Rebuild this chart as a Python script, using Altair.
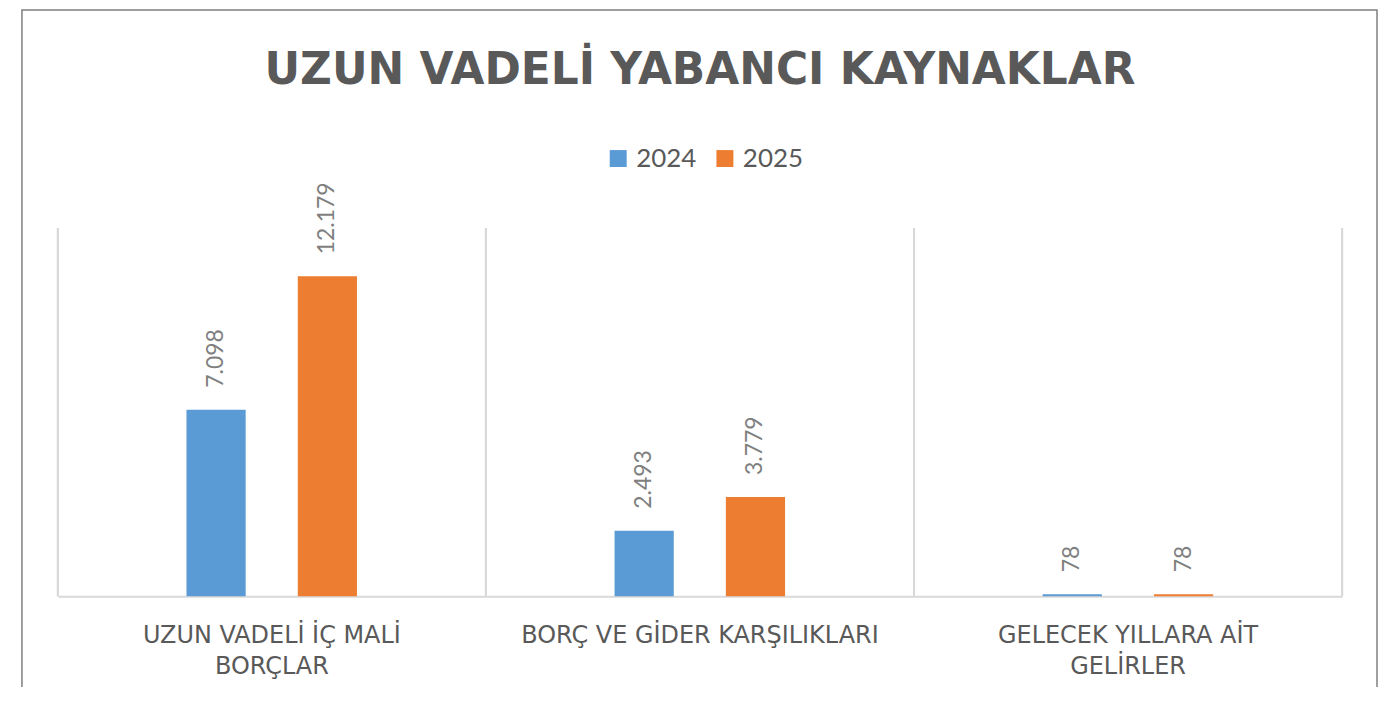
import altair as alt
import pandas as pd

categories = ["UZUN VADELİ İÇ MALİ|BORÇLAR", "BORÇ VE GİDER KARŞILIKLARI", "GELECEK YILLARA AİT|GELİRLER"]
years = ["2024", "2025"]
values_2024 = [7098, 2493, 78]
values_2025 = [12179, 3779, 78]
colors = ["#5B9BD5", "#ED7D31"]
title_text = "UZUN VADELİ YABANCI KAYNAKLAR"

rows = []
for c, v in zip(categories, values_2024):
    rows.append({"cat": c, "year": "2024", "value": v})
for c, v in zip(categories, values_2025):
    rows.append({"cat": c, "year": "2025", "value": v})
df = pd.DataFrame(rows)

W, H = 1288, 369

def xenc(band=None, axis=None):
    kw = dict(sort=categories, title=None,
              scale=alt.Scale(paddingInner=0, paddingOuter=0))
    if band is not None:
        kw["bandPosition"] = band
    if axis is not None:
        kw["axis"] = axis
    return alt.X("cat:N", **kw)

xaxis = alt.Axis(title=None, labelAngle=0, labelFont="DejaVu Sans", labelFontSize=24,
                 labelColor="#595959", labelPadding=27, labelLineHeight=31,
                 labelExpr="split(datum.label, '|')", ticks=False,
                 domainColor="#d9d9d9", domainWidth=2, grid=False, labelLimit=600)

xoff = alt.XOffset("year:N", sort=years,
                   scale=alt.Scale(range=[129, 300], paddingInner=0.468, paddingOuter=0))
yenc = alt.Y("value:Q", scale=alt.Scale(domain=[0, 14000]), axis=None)

base = alt.Chart(df)

grid0 = base.mark_rule(color="#d9d9d9", strokeWidth=2).encode(
    x=xenc(band=0, axis=xaxis), y=alt.value(0), y2=alt.value(H))
grid1 = base.mark_rule(color="#d9d9d9", strokeWidth=2).encode(
    x=xenc(band=1), y=alt.value(0), y2=alt.value(H))

bars = base.mark_bar().encode(
    x=xenc(),
    xOffset=xoff,
    y=yenc,
    color=alt.Color("year:N", scale=alt.Scale(domain=years, range=colors),
                    legend=alt.Legend(orient="none", legendX=549, legendY=-83,
                                      direction="horizontal", title=None,
                                      symbolType="square", symbolSize=289,
                                      symbolStrokeWidth=0, symbolOpacity=1,
                                      labelFontSize=26, labelFont="Lato",
                                      labelColor="#595959", columnPadding=15,
                                      labelOffset=5)),
)

labels = base.transform_calculate(
    lbl="replace(format(datum.value, ','), ',', '.')"
).mark_text(angle=270, align="left", baseline="middle", dx=22,
            fontSize=23, font="Lato", color="#7f7f7f").encode(
    x=xenc(), xOffset=xoff, y=yenc, text="lbl:N")

frame = alt.Chart(pd.DataFrame({"a": [0]})).mark_rect(
    fillOpacity=0, stroke="#7f7f7f", strokeWidth=1.5).encode(
    x=alt.value(-36), x2=alt.value(1323), y=alt.value(-219), y2=alt.value(H + 300))

chart = alt.layer(frame, grid0, grid1, bars, labels).properties(
    width=W, height=H,
    title=alt.Title(title_text, fontSize=44, font="DejaVu Sans", fontWeight="bold",
                    color="#595959", anchor="middle", offset=-84),
    padding={"left": 50, "top": 220, "right": 36, "bottom": 90},
    autosize=alt.AutoSizeParams(type="none"),
).configure_view(stroke=None)

chart.save("out.html", embed_options={"renderer": "svg", "actions": False})
